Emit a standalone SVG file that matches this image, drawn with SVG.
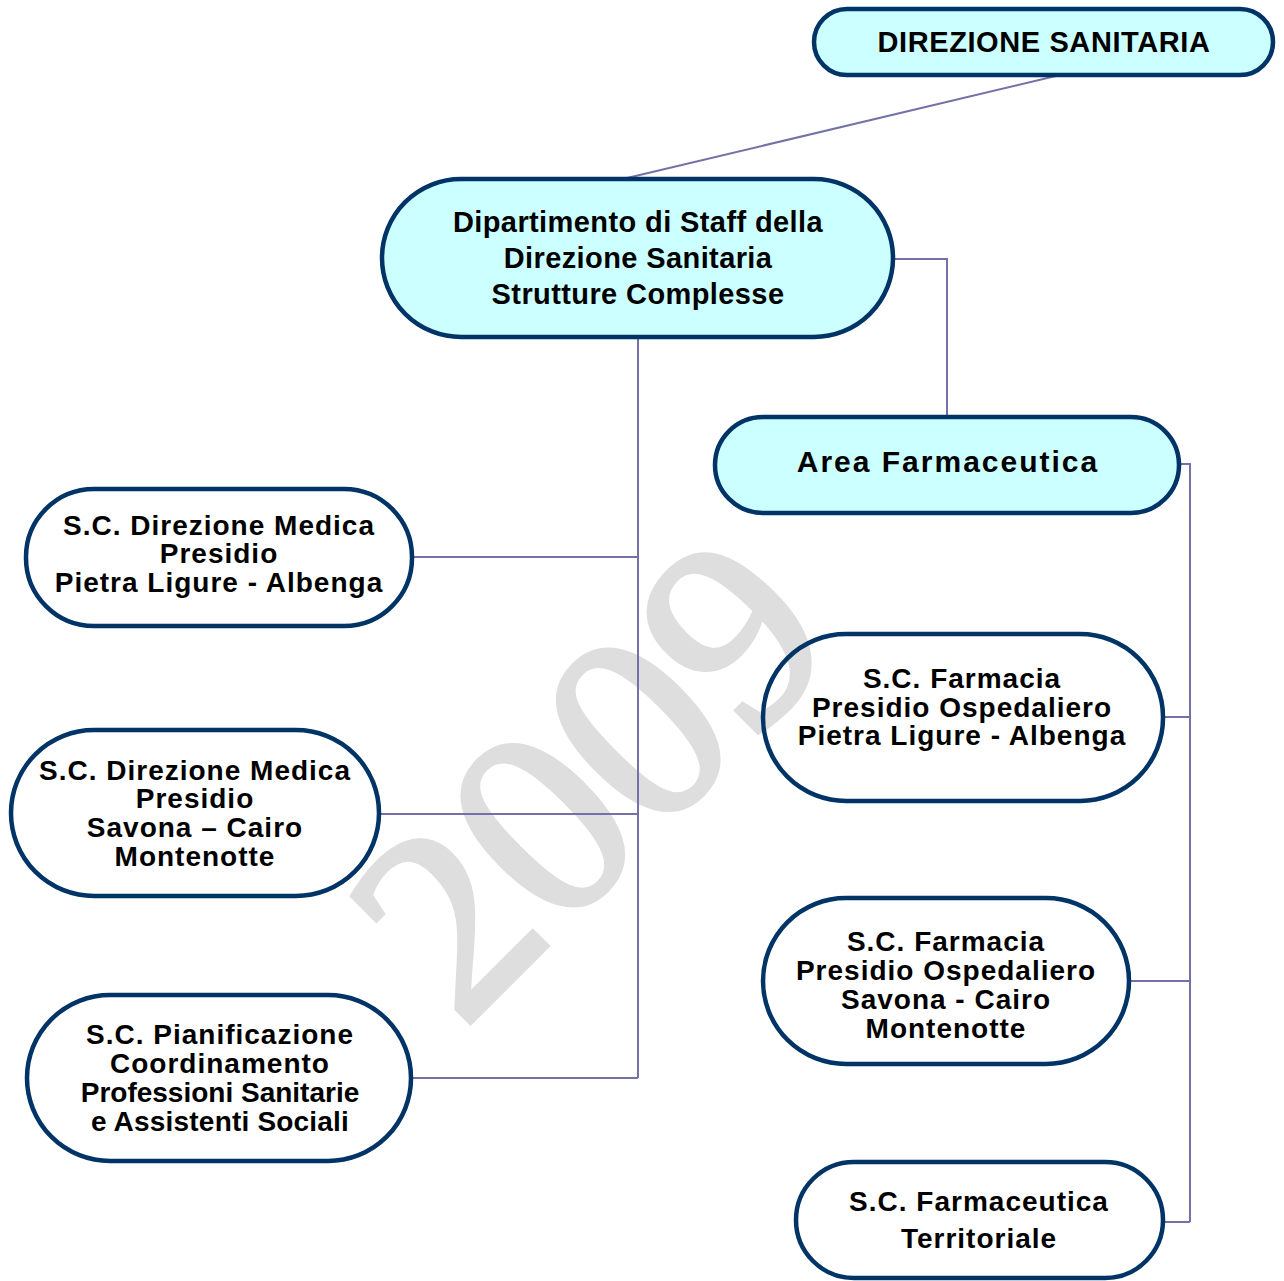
<svg xmlns="http://www.w3.org/2000/svg" width="1284" height="1281" viewBox="0 0 1284 1281">
<style>
.n{stroke:#003366;stroke-width:4.5}
.c{fill:#ccffff}
.w{fill:none}
.t{font-family:"Liberation Sans",Arial,sans-serif;font-weight:bold;font-size:28px;fill:#000;text-anchor:middle;letter-spacing:1px}
.k{fill:none;stroke:#7272a8;stroke-width:2}
.wm{font-family:"Liberation Serif","Times New Roman",serif;font-size:270px;fill:#dedede;stroke:#dedede;stroke-width:5;text-anchor:middle}
</style>
<rect width="1284" height="1281" fill="#fff"/>
<text class="wm" transform="translate(588,775) rotate(-45)" x="0" y="92">2009</text>
<g id="connectors">
<path class="k" d="M1060,75 L627,178"/>
<path class="k" d="M893,259 H947 V417"/>
<path class="k" d="M638,337 V1078"/>
<path class="k" d="M412,557 H638"/>
<path class="k" d="M379,814 H638"/>
<path class="k" d="M411,1078 H638"/>
<path class="k" d="M1179,464 H1190 V1222"/>
<path class="k" d="M1163,717 H1190"/>
<path class="k" d="M1129,981 H1190"/>
<path class="k" d="M1163,1222 H1190"/>
</g>
<g id="direzione-sanitaria">
<rect class="n c" x="814" y="9" width="459" height="66" rx="33"/>
<text class="t" x="1044" y="52" style="font-size:29px;letter-spacing:0.6px">DIREZIONE SANITARIA</text>
</g>
<g id="dipartimento">
<rect class="n c" x="382" y="179" width="511" height="158" rx="79"/>
<text class="t" x="638" y="232" style="font-size:29px;letter-spacing:0.4px">Dipartimento di Staff della</text>
<text class="t" x="638" y="268" style="font-size:29px;letter-spacing:0.4px">Direzione Sanitaria</text>
<text class="t" x="638" y="304" style="font-size:29px;letter-spacing:0.4px">Strutture Complesse</text>
</g>
<g id="area-farmaceutica">
<rect class="n c" x="715" y="417" width="464" height="96" rx="48"/>
<text class="t" x="948" y="472" style="font-size:30px;letter-spacing:2px">Area Farmaceutica</text>
</g>
<g id="dir-medica-pietra">
<rect class="n w" x="26" y="489" width="386" height="137" rx="68"/>
<text class="t" x="219" y="535">S.C. Direzione Medica</text>
<text class="t" x="219" y="563">Presidio</text>
<text class="t" x="219" y="592">Pietra Ligure - Albenga</text>
</g>
<g id="dir-medica-savona">
<rect class="n w" x="11" y="730" width="368" height="166" rx="83"/>
<text class="t" x="195" y="780">S.C. Direzione Medica</text>
<text class="t" x="195" y="808">Presidio</text>
<text class="t" x="195" y="837">Savona – Cairo</text>
<text class="t" x="195" y="866">Montenotte</text>
</g>
<g id="pianificazione">
<rect class="n w" x="27" y="995" width="384" height="166" rx="83"/>
<text class="t" x="220" y="1044">S.C. Pianificazione</text>
<text class="t" x="220" y="1073">Coordinamento</text>
<text class="t" x="220" y="1102" style="letter-spacing:0">Professioni Sanitarie</text>
<text class="t" x="220" y="1131" style="letter-spacing:0.2px">e Assistenti Sociali</text>
</g>
<g id="farmacia-pietra">
<rect class="n w" x="763" y="634" width="400" height="167" rx="83"/>
<text class="t" x="962" y="688">S.C. Farmacia</text>
<text class="t" x="962" y="717">Presidio Ospedaliero</text>
<text class="t" x="962" y="745">Pietra Ligure - Albenga</text>
</g>
<g id="farmacia-savona">
<rect class="n w" x="763" y="898" width="366" height="166" rx="83"/>
<text class="t" x="946" y="951">S.C. Farmacia</text>
<text class="t" x="946" y="980">Presidio Ospedaliero</text>
<text class="t" x="946" y="1009">Savona - Cairo</text>
<text class="t" x="946" y="1038">Montenotte</text>
</g>
<g id="farmaceutica-territoriale">
<rect class="n w" x="796" y="1162" width="367" height="116" rx="58"/>
<text class="t" x="979" y="1211">S.C. Farmaceutica</text>
<text class="t" x="979" y="1248">Territoriale</text>
</g>
</svg>
